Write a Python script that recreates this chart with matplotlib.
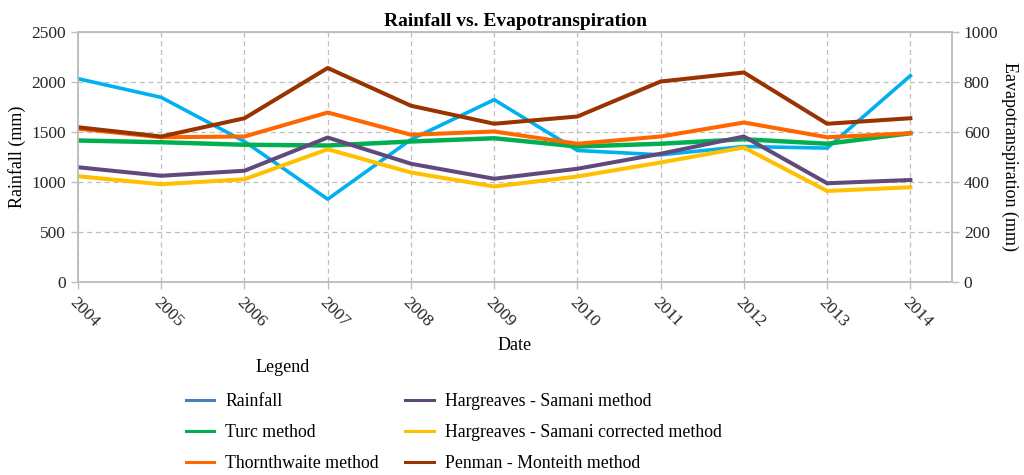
import matplotlib
matplotlib.use("Agg")
import matplotlib.pyplot as plt
from matplotlib.lines import Line2D

years = [2004, 2005, 2006, 2007, 2008, 2009, 2010, 2011, 2012, 2013, 2014]
rainfall = [2033, 1846, 1405, 828, 1425, 1823, 1315, 1272, 1355, 1339, 2063]
turc = [566, 559, 549, 546, 562, 575, 542, 553, 571, 553, 595]
thornthwaite = [613, 579, 582, 678, 589, 602, 553, 582, 638, 579, 595]
hargreaves = [459, 425, 445, 578, 473, 413, 453, 513, 582, 395, 408]
hargreaves_corr = [423, 391, 411, 531, 438, 382, 422, 478, 538, 364, 379]
penman = [619, 582, 655, 856, 705, 633, 662, 802, 838, 633, 655]
left_ticks = [0, 500, 1000, 1500, 2000, 2500]
right_ticks = [0, 200, 400, 600, 800, 1000]

plt.rcParams['font.family'] = ['Liberation Serif', 'DejaVu Serif']

fig = plt.figure(figsize=(10.24, 4.75), dpi=100)
ax = fig.add_axes([78/1024, 1-282/475, (952-78)/1024, 250/475])
ax2 = ax.twinx()

spine_c = '#bfbfbf'
lw = 2.6
c_rain = '#00b0f0'
c_turc = '#00b050'
c_thorn = '#ff6600'
c_harg = '#604a7b'
c_hcorr = '#ffc000'
c_pen = '#993300'

ax.plot(years, rainfall, color=c_rain, lw=lw, zorder=3)
ax2.plot(years, turc, color=c_turc, lw=lw + 0.6)
ax2.plot(years, thornthwaite, color=c_thorn, lw=lw + 0.3)
ax2.plot(years, hargreaves, color=c_harg, lw=lw + 0.3)
ax2.plot(years, hargreaves_corr, color=c_hcorr, lw=lw + 0.3)
ax2.plot(years, penman, color=c_pen, lw=lw + 0.3)

ax.set_xlim(2004, 2014.5)
ax.set_ylim(0, 2500)
ax2.set_ylim(0, 1000)
ax.set_yticks(left_ticks)
ax2.set_yticks(right_ticks)
ax.set_xticks(years)
ax.set_xticklabels([str(y) for y in years], rotation=-45, ha='left', va='top',
                   rotation_mode='anchor', fontsize=12.5, color='#262626')
ax.tick_params(axis='y', labelsize=12.5, colors=spine_c, labelcolor='#262626', length=5, width=1)
ax.tick_params(axis='x', colors=spine_c, labelcolor='#262626', length=5, width=1, pad=4)
ax2.tick_params(axis='y', labelsize=12.5, colors=spine_c, labelcolor='#262626', length=5, width=1)

ax.grid(True, color='#bfbfbf', linestyle=(0, (4, 3)), linewidth=0.9)
ax.set_axisbelow(True)
for a in (ax, ax2):
    for s in a.spines.values():
        s.set_color(spine_c)
        s.set_linewidth(1.2)

ax.set_ylabel('Rainfall (mm)', fontsize=13, labelpad=4)
ax2.set_ylabel('Eavapotranspiration (mm)', fontsize=13, rotation=270, labelpad=14)
ax.set_title('Rainfall vs. Evapotranspiration', fontsize=14, fontweight='bold', pad=4)
fig.text(515/1024, 1-346/475, 'Date', fontsize=13, ha='center', va='center')
fig.text(283/1024, 1-368/475, 'Legend', fontsize=13, ha='center', va='center')

handles = [
    Line2D([], [], color='#4a7ebb', lw=2.2),
    Line2D([], [], color=c_turc, lw=2.2),
    Line2D([], [], color=c_thorn, lw=2.2),
    Line2D([], [], color=c_harg, lw=2.2),
    Line2D([], [], color=c_hcorr, lw=2.2),
    Line2D([], [], color=c_pen, lw=2.2),
]
labels = ['Rainfall', 'Turc method', 'Thornthwaite method',
          'Hargreaves - Samani method', 'Hargreaves - Samani corrected method',
          'Penman - Monteith method']
fig.legend(handles, labels, ncol=2, frameon=False, fontsize=12.8,
           loc='upper left', bbox_to_anchor=(186/1024, 1-393/475),
           borderpad=0, borderaxespad=0, handlelength=1.6, handletextpad=0.6,
           columnspacing=1.5, labelspacing=0.8)

fig.savefig('out.png', dpi=100)
